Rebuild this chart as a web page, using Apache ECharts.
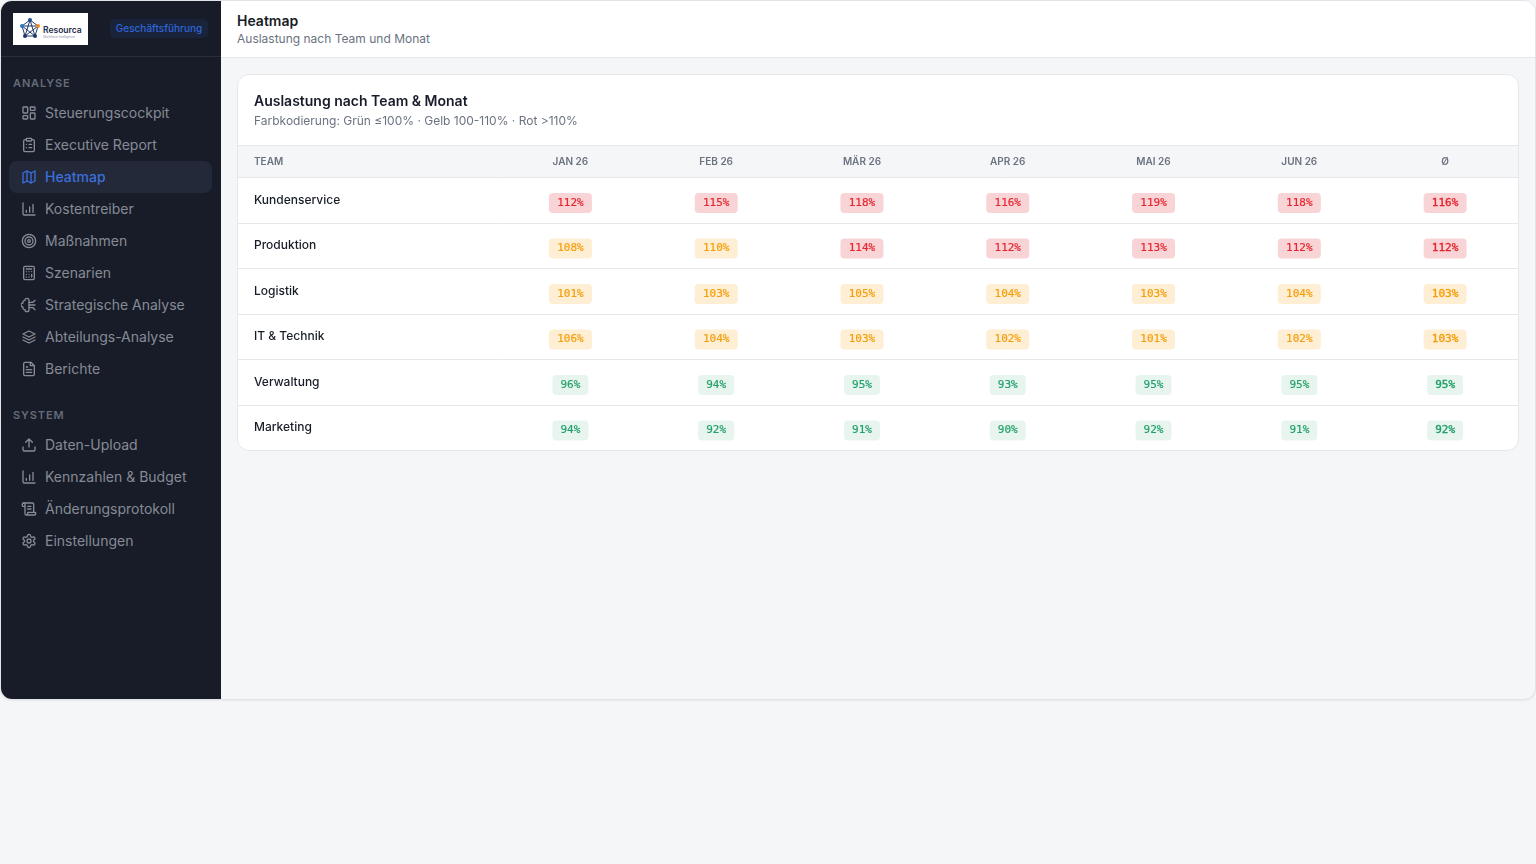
<!DOCTYPE html>
<html lang="de">
<head>
<meta charset="utf-8">
<title>Heatmap</title>
<script src="https://cdn.jsdelivr.net/npm/echarts@6/dist/echarts.min.js"></script>
<style>
  html, body { margin: 0; padding: 0; width: 1536px; height: 864px; background: #f5f6f8; overflow: hidden; font-family: Inter, sans-serif; }
  .app { position: absolute; left: 0; top: 0; width: 1536px; height: 700px; box-sizing: border-box; border: 1px solid #e2e4e9; border-radius: 12px; overflow: hidden; background: #f5f6f8; box-shadow: 0 1px 2px rgba(0,0,0,.06); }
  .side { position: absolute; left: 0; top: 0; width: 220px; height: 698px; background: #171c28; }
  .brand { position: absolute; left: 0; top: 0; width: 220px; height: 55px; border-bottom: 1px solid #2a2f3b; }
  .logo { position: absolute; left: 12px; top: 12px; width: 75px; height: 32px; background: #fff; }
  .badge { position: absolute; left: 109px; top: 18px; width: 98px; height: 19px; line-height: 18px; text-align: center; border-radius: 5px; background: #19233a; color: #2f66d8; font-size: 10px; font-weight: 500; }
  .sec { position: absolute; left: 12px; font-size: 11px; font-weight: 600; letter-spacing: .08em; color: #656b78; line-height: 14px; }
  .item { position: absolute; left: 8px; width: 203px; height: 32px; border-radius: 8px; color: #868b96; font-size: 14px; line-height: 32px; }
  .item span { position: absolute; left: 36px; white-space: nowrap; }
  .item svg { position: absolute; left: 12px; top: 8px; width: 16px; height: 16px; fill: none; stroke: currentColor; stroke-width: 2; stroke-linecap: round; stroke-linejoin: round; }
  .item.on { background: #232938; color: #3b6fdc; font-weight: 500; }
  .top { position: absolute; left: 220px; top: 0; right: 0; height: 56px; background: #fff; border-bottom: 1px solid #e5e7eb; }
  .top h1 { position: absolute; left: 16px; top: 11px; margin: 0; font-size: 14px; line-height: 18px; font-weight: 600; color: #171c28; }
  .top p { position: absolute; left: 16px; top: 30px; margin: 0; font-size: 12px; line-height: 16px; color: #6b7280; }
  .card { position: absolute; left: 236px; top: 73px; width: 1282px; height: 377px; box-sizing: border-box; border: 1px solid #e5e7eb; border-radius: 12px; background: #fff; overflow: hidden; }
  #main { width: 1280px; height: 376px; }
</style>
</head>
<body>
<div class="app">
  <div class="side">
    <div class="brand">
      <div class="logo">
        <svg width="75" height="32" viewBox="0 0 75 32">
          <g fill="none" stroke="#1f3a68" stroke-width="1">
            <path d="M17 7 L25 13 L22 23 L12 23 L9 13 Z M17 7 L22 23 M17 7 L12 23 M9 13 L25 13 M9 13 L22 23 M25 13 L12 23"/>
          </g>
          <circle cx="17" cy="7" r="2" fill="#1f4e8c"/>
          <circle cx="25" cy="13" r="2" fill="#ee8a2a"/>
          <circle cx="22" cy="23" r="2" fill="#1f3a68"/>
          <circle cx="12" cy="23" r="2" fill="#1f3a68"/>
          <circle cx="9" cy="13" r="2" fill="#2a78c4"/>
          <text x="30" y="20" font-family="Inter" font-size="8.5" font-weight="600" fill="#1c2b4a">Resourca</text>
          <text x="30" y="25" font-family="Inter" font-size="3" fill="#8a93a3">Workforce Intelligence</text>
        </svg>
      </div>
      <div class="badge">Geschäftsführung</div>
    </div>
    <div class="sec" style="top:75px">ANALYSE</div>
    <div class="item" style="top:96px"><svg viewBox="0 0 24 24"><rect x="3" y="3" width="7" height="9" rx="1"/><rect x="14" y="3" width="7" height="5" rx="1"/><rect x="14" y="12" width="7" height="9" rx="1"/><rect x="3" y="16" width="7" height="5" rx="1"/></svg><span>Steuerungscockpit</span></div>
    <div class="item" style="top:128px"><svg viewBox="0 0 24 24"><rect x="8" y="2" width="8" height="4" rx="1"/><path d="M16 4h2a2 2 0 0 1 2 2v14a2 2 0 0 1-2 2H6a2 2 0 0 1-2-2V6a2 2 0 0 1 2-2h2"/><path d="M12 11h4M12 16h4M8 11h.01M8 16h.01"/></svg><span>Executive Report</span></div>
    <div class="item on" style="top:160px"><svg viewBox="0 0 24 24"><path d="M3 6l6-3 6 3 6-3v15l-6 3-6-3-6 3z"/><path d="M9 3v15M15 6v15"/></svg><span>Heatmap</span></div>
    <div class="item" style="top:192px"><svg viewBox="0 0 24 24"><path d="M3 3v16a2 2 0 0 0 2 2h16"/><path d="M8 17v-3M13 17V9M18 17V5"/></svg><span>Kostentreiber</span></div>
    <div class="item" style="top:224px"><svg viewBox="0 0 24 24"><circle cx="12" cy="12" r="10"/><circle cx="12" cy="12" r="6"/><circle cx="12" cy="12" r="2"/></svg><span>Maßnahmen</span></div>
    <div class="item" style="top:256px"><svg viewBox="0 0 24 24"><rect x="4" y="2" width="16" height="20" rx="2"/><path d="M8 6h8M16 14v4M16 10h.01M12 10h.01M8 10h.01M12 14h.01M8 14h.01M12 18h.01M8 18h.01"/></svg><span>Szenarien</span></div>
    <div class="item" style="top:288px"><svg viewBox="0 0 24 24"><path d="M12 5a3 3 0 0 0-6 0 3 3 0 0 0-3 4 3 3 0 0 0 0 6 3 3 0 0 0 3 4 3 3 0 0 0 6 0z"/><path d="M12 8h6l3-3M12 12h9M12 16h6l3 3"/></svg><span>Strategische Analyse</span></div>
    <div class="item" style="top:320px"><svg viewBox="0 0 24 24"><path d="M12 3l9 4.5-9 4.5-9-4.5z"/><path d="M3 12l9 4.5 9-4.5"/><path d="M3 16.5l9 4.5 9-4.5"/></svg><span>Abteilungs-Analyse</span></div>
    <div class="item" style="top:352px"><svg viewBox="0 0 24 24"><path d="M15 2H6a2 2 0 0 0-2 2v16a2 2 0 0 0 2 2h12a2 2 0 0 0 2-2V7z"/><path d="M14 2v5h6M8 13h8M8 17h8M8 9h2"/></svg><span>Berichte</span></div>
    <div class="sec" style="top:407px">SYSTEM</div>
    <div class="item" style="top:428px"><svg viewBox="0 0 24 24"><path d="M21 15v4a2 2 0 0 1-2 2H5a2 2 0 0 1-2-2v-4"/><path d="M17 8l-5-5-5 5M12 3v12"/></svg><span>Daten-Upload</span></div>
    <div class="item" style="top:460px"><svg viewBox="0 0 24 24"><path d="M3 3v16a2 2 0 0 0 2 2h16"/><path d="M8 17v-3M13 17V9M18 17V5"/></svg><span>Kennzahlen &amp; Budget</span></div>
    <div class="item" style="top:492px"><svg viewBox="0 0 24 24"><path d="M15 12h-5M15 8h-5M19 17V5a2 2 0 0 0-2-2H4"/><path d="M8 21h12a2 2 0 0 0 2-2v-1a1 1 0 0 0-1-1H11a1 1 0 0 0-1 1v1a2 2 0 1 1-4 0V5a2 2 0 1 0-4 0v2a1 1 0 0 0 1 1h3"/></svg><span>Änderungsprotokoll</span></div>
    <div class="item" style="top:524px"><svg viewBox="0 0 24 24"><path d="M12.2 2h-.4a2 2 0 0 0-2 2v.2a2 2 0 0 1-1 1.7l-.4.3a2 2 0 0 1-2 0l-.2-.1a2 2 0 0 0-2.7.7l-.2.4a2 2 0 0 0 .7 2.7l.2.1a2 2 0 0 1 1 1.7v.5a2 2 0 0 1-1 1.8l-.2.1a2 2 0 0 0-.7 2.7l.2.4a2 2 0 0 0 2.7.7l.2-.1a2 2 0 0 1 2 0l.4.3a2 2 0 0 1 1 1.7v.2a2 2 0 0 0 2 2h.4a2 2 0 0 0 2-2v-.2a2 2 0 0 1 1-1.7l.4-.3a2 2 0 0 1 2 0l.2.1a2 2 0 0 0 2.7-.7l.2-.4a2 2 0 0 0-.7-2.7l-.2-.1a2 2 0 0 1-1-1.8v-.5a2 2 0 0 1 1-1.7l.2-.1a2 2 0 0 0 .7-2.7l-.2-.4a2 2 0 0 0-2.7-.7l-.2.1a2 2 0 0 1-2 0l-.4-.3a2 2 0 0 1-1-1.7V4a2 2 0 0 0-2-2z"/><circle cx="12" cy="12" r="3"/></svg><span>Einstellungen</span></div>
  </div>
  <div class="top">
    <h1>Heatmap</h1>
    <p>Auslastung nach Team und Monat</p>
  </div>
  <div class="card"><div id="main"></div></div>
</div>
<script>
// Auslastung in Prozent, Zeilen von oben nach unten
var teams = ['Kundenservice', 'Produktion', 'Logistik', 'IT & Technik', 'Verwaltung', 'Marketing'];
var months = ['JAN 26', 'FEB 26', 'MÄR 26', 'APR 26', 'MAI 26', 'JUN 26', 'Ø'];
var kundenservice = [112, 115, 118, 116, 119, 118, 116];
var produktion = [108, 110, 114, 112, 113, 112, 112];
var logistik = [101, 103, 105, 104, 103, 104, 103];
var itTechnik = [106, 104, 103, 102, 101, 102, 103];
var verwaltung = [96, 94, 95, 93, 95, 95, 95];
var marketing = [94, 92, 91, 90, 92, 91, 92];
var rows = [kundenservice, produktion, logistik, itTechnik, verwaltung, marketing];

var lineColor = '#e5e7eb';

function tone(v) {
  if (v > 110) return { bg: '#f9d4d6', fg: '#e5262f' };
  if (v > 100) return { bg: '#feeed3', fg: '#f59e0b' };
  return { bg: '#e8f5ef', fg: '#22a06b' };
}

var cells = [];
rows.forEach(function (row, r) {
  row.forEach(function (v, c) {
    cells.push([c, r, v]);
  });
});

// kleine Badge pro Zelle, Position kommt von den Achsen
function renderCell(params, api) {
  var v = api.value(2);
  var pos = api.coord([api.value(0), api.value(1)]);
  var t = tone(v);
  var w = v >= 100 ? 43 : 36;
  var h = 20;
  var cy = pos[1] + 2.75;
  var isAvg = api.value(0) === 6;
  return {
    type: 'group',
    children: [
      { type: 'rect', shape: { x: pos[0] - w / 2, y: cy - h / 2, width: w, height: h, r: 4 }, style: { fill: t.bg } },
      {
        type: 'text',
        style: {
          x: pos[0], y: cy, text: v + '%', align: 'center', verticalAlign: 'middle',
          fill: t.fg, stroke: t.fg, lineWidth: isAvg ? 0.4 : 0.2,
          fontFamily: 'DejaVu Sans Mono', fontSize: 11
        }
      }
    ]
  };
}

var myChart = echarts.init(document.getElementById('main'));

var option = {
  animation: false,
  title: {
    left: 11, top: 13, itemGap: 4,
    text: 'Auslastung nach Team & Monat',
    textStyle: { fontFamily: 'Inter', fontSize: 14, fontWeight: 600, color: '#171c28', lineHeight: 17 },
    subtext: 'Farbkodierung: Grün ≤100% · Gelb 100-110% · Rot >110%',
    subtextStyle: { fontFamily: 'Inter', fontSize: 12, color: '#6b7280', lineHeight: 15 }
  },
  graphic: [
    // Kopfzeile der Tabelle
    { type: 'rect', z: -1, shape: { x: 0, y: 71, width: 1280, height: 31 }, style: { fill: '#f5f6f8' } },
    { type: 'line', z: -1, shape: { x1: 0, y1: 70.5, x2: 1280, y2: 70.5 }, style: { stroke: lineColor, lineWidth: 1 } }
  ],
  grid: [
    { left: 0, top: 102.5, width: 259.5, height: 273 },
    { left: 259.5, top: 102.5, right: 0, height: 273 }
  ],
  xAxis: [
    { gridIndex: 0, type: 'category', data: [''], show: false },
    {
      gridIndex: 1, type: 'category', data: months, position: 'top',
      axisLine: { show: false }, axisTick: { show: false },
      axisLabel: { margin: 11, interval: 0, fontFamily: 'Inter', fontSize: 10, fontWeight: 600, color: '#6b7280' }
    }
  ],
  yAxis: [
    {
      gridIndex: 0, type: 'category', data: teams, inverse: true,
      name: 'TEAM', nameLocation: 'start', nameGap: 11,
      nameTextStyle: { align: 'left', padding: [0, 0, 0, 16], fontFamily: 'Inter', fontSize: 10, fontWeight: 600, color: '#6b7280' },
      axisLine: { show: false }, axisTick: { show: false },
      splitLine: { show: true, interval: 0, lineStyle: { color: lineColor, width: 1 } },
      axisLabel: { inside: true, margin: 16, interval: 0, padding: [1, 0, 0, 0], fontFamily: 'Inter', fontSize: 12, fontWeight: 500, color: '#171c28' }
    },
    {
      gridIndex: 1, type: 'category', data: teams, inverse: true,
      axisLine: { show: false }, axisTick: { show: false }, axisLabel: { show: false },
      splitLine: { show: true, interval: 0, lineStyle: { color: lineColor, width: 1 } }
    }
  ],
  series: [{
    type: 'custom',
    xAxisIndex: 1, yAxisIndex: 1,
    coordinateSystem: 'cartesian2d',
    encode: { x: 0, y: 1 },
    renderItem: renderCell,
    data: cells
  }]
};

myChart.setOption(option);
</script>
</body>
</html>
